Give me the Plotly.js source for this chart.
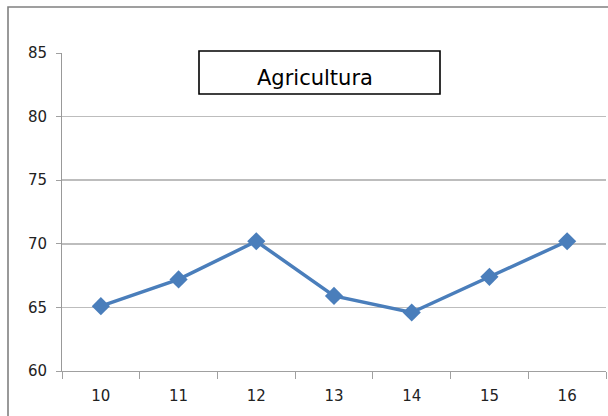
<!DOCTYPE html>
<html>
<head>
<meta charset="utf-8">
<script src="https://cdn.plot.ly/plotly-3.0.1.min.js"></script>
<style>
  html, body { margin: 0; padding: 0; background: #ffffff; }
  #chart { width: 608px; height: 416px; }
</style>
</head>
<body>
<div id="chart"></div>
<script>
const categories = ['10', '11', '12', '13', '14', '15', '16'];
const values = [65.1, 67.2, 70.2, 65.9, 64.6, 67.4, 70.2];
const yTicks = [60, 65, 70, 75, 80, 85];
const titleText = 'Agricultura';

const blue = '#4a7ebb';

const trace = {
  type: 'scatter',
  mode: 'lines+markers',
  x: categories,
  y: values,
  line: { color: blue, width: 3.5 },
  marker: { symbol: 'diamond', size: 14, color: blue },
  hoverinfo: 'x+y',
  showlegend: false
};

const layout = {
  width: 608,
  height: 416,
  margin: { l: 62, r: 2, t: 53, b: 45, pad: 0 },
  paper_bgcolor: '#ffffff',
  plot_bgcolor: '#ffffff',
  font: { family: 'DejaVu Sans, sans-serif', size: 15, color: '#222222' },
  xaxis: {
    type: 'category',
    range: [-0.5, 6.5],
    tickson: 'boundaries',
    ticks: 'outside',
    ticklen: 7,
    tickcolor: '#a0a0a0',
    tickwidth: 1,
    showline: true,
    linecolor: '#a0a0a0',
    linewidth: 1,
    showgrid: false,
    zeroline: false,
    ticklabelstandoff: 11,
    tickfont: { family: 'DejaVu Sans, sans-serif', size: 15, color: '#222222' }
  },
  yaxis: {
    range: [60, 85],
    tickvals: yTicks,
    ticktext: yTicks.map(String),
    ticks: 'outside',
    ticklen: 5,
    tickcolor: '#a0a0a0',
    tickwidth: 1,
    showline: true,
    linecolor: '#999999',
    linewidth: 1,
    showgrid: true,
    gridcolor: '#bdbdbd',
    gridwidth: 1.6,
    zeroline: false,
    ticklabelstandoff: 6,
    tickfont: { family: 'DejaVu Sans, sans-serif', size: 15, color: '#222222' }
  },
  shapes: [
    {
      type: 'rect', xref: 'paper', yref: 'paper',
      x0: (8 - 62) / 544, x1: (620 - 62) / 544,
      y0: (371 - 430) / 318, y1: (371 - 7) / 318,
      line: { color: '#808080', width: 1.6 },
      fillcolor: 'rgba(0,0,0,0)',
      layer: 'below'
    },
    {
      type: 'rect', xref: 'paper', yref: 'paper',
      x0: (199 - 62) / 544, x1: (440 - 62) / 544,
      y0: (371 - 94) / 318, y1: (371 - 51) / 318,
      line: { color: '#000000', width: 1.6 },
      fillcolor: '#ffffff',
      layer: 'above'
    }
  ],
  annotations: [
    {
      text: titleText,
      xref: 'paper', yref: 'paper',
      x: (315 - 62) / 544, y: (371 - 78) / 318,
      xanchor: 'center', yanchor: 'middle',
      showarrow: false,
      font: { family: 'DejaVu Sans, sans-serif', size: 21, color: '#000000' }
    }
  ]
};

Plotly.newPlot('chart', [trace], layout, { displayModeBar: false, staticPlot: true });
</script>
</body>
</html>
